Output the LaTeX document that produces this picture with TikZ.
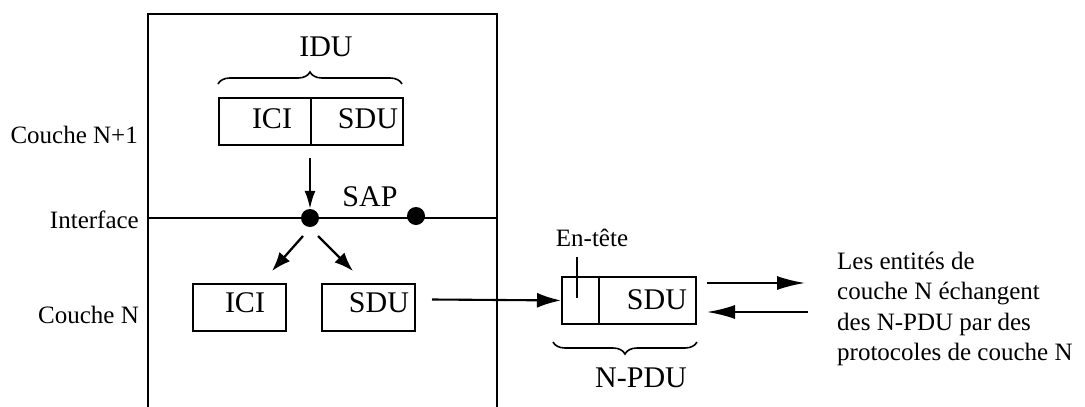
\documentclass[tikz,border=0pt]{standalone}
\usepackage{fontspec}
\setmainfont{Liberation Serif}
\usetikzlibrary{arrows.meta,decorations.pathreplacing}
\tikzset{
  frame/.style={line width=1.9pt},
  cell/.style={draw,line width=1.9pt,minimum width=#1,minimum height=47pt,inner sep=0pt,anchor=north west},
  big/.style={font=\fontsize{30}{36}\selectfont,inner sep=0pt},
  small/.style={font=\fontsize{25}{30.5}\selectfont,inner sep=0pt},
  arr/.style={line width=2.1pt,-{Latex[length=18pt,width=11pt]}},
  darr/.style={line width=2.3pt,-{Latex[length=19pt,width=14pt]}},
  larr/.style={line width=2.1pt,-{Latex[length=28pt,width=14pt]}},
  dot/.style={circle,fill=black,minimum size=18pt,inner sep=0pt},
  brace/.style={line width=1.6pt,decorate,decoration={brace,amplitude=12pt}}
}
\begin{document}
\begin{tikzpicture}[x=1pt,y=-1pt]
\useasboundingbox (0,0) rectangle (1085,407);
% outer frame (open at the bottom)
\draw[frame] (148,407) -- (148,14) -- (497,14) -- (497,407);
% interface line
\draw[frame] (148,218) -- (497,218);
% left labels
\node[small,anchor=east] (lN1) at (138,135) {Couche N+1};
\node[small,anchor=east] (lIf) at (139,220) {Interface};
\node[small,anchor=east] (lN) at (139,315) {Couche N};
% IDU
\node[big] (idu) at (326,47) {IDU};
\draw[brace] (218,84) -- (402,84);
\node[cell=92pt] (iciT) at (218,97) {};
\node[cell=92pt] (sduT) at (310,97) {};
\node[big] at (272,119) {ICI};
\node[big] at (368,119) {SDU};
% SAP
\node[dot] (sap1) at (310,218) {};
\node[dot] (sap2) at (416,216) {};
\node[big] (sapl) at (370,197) {SAP};
\coordinate (dtop) at (310,158);
\draw[arr] (dtop) -- (sap1.north);
% bottom boxes
\node[cell=93pt] (iciB) at (192,283) {};
\node[cell=93pt] (sduB) at (321,283) {};
\node[big] at (245,303) {ICI};
\node[big] at (379,303) {SDU};
\coordinate (a1s) at (303,236);
\coordinate (a1e) at (272,271);
\coordinate (a2s) at (318,236);
\coordinate (a2e) at (353,271);
\draw[darr] (a1s) -- (a1e);
\draw[darr] (a2s) -- (a2e);
% N-PDU
\node[cell=37pt] (hdr) at (561,276) {};
\node[cell=97pt] (sduN) at (598,276) {};
\node[big] at (657,300) {SDU};
\coordinate (tick) at (577,257);
\draw[line width=1.9pt] (tick) -- (577,298);
\node[small] (ent) at (592,238) {En-tête};
\draw[brace,decoration={mirror}] (553,342) -- (697,342);
\node[big] (npdu) at (641,378) {N-PDU};
% arrow SDU -> N-PDU
\coordinate (s0) at (432,299.5);
\draw[line width=2.1pt,-{Latex[length=24pt,width=15pt]}] (s0) -- (hdr.west);
% exchange arrows
\coordinate (e1s) at (707,283);
\coordinate (e1e) at (805,283);
\coordinate (e2s) at (808,312);
\coordinate (e2e) at (707,312);
\draw[larr] (e1s) -- (e1e);
\draw[larr] (e2s) -- (e2e);
% right text
\node[small,anchor=west,align=left] (txt) at (837,309)
  {Les entités de\\couche N échangent\\des N-PDU par des\\protocoles de couche N};
\end{tikzpicture}
\end{document}
